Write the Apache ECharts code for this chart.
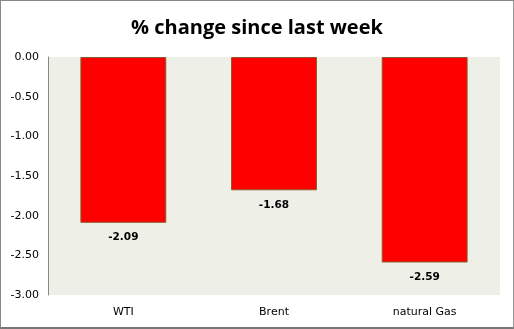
<!DOCTYPE html>
<html><head><meta charset="utf-8">
<script src="https://cdn.jsdelivr.net/npm/echarts@6/dist/echarts.min.js"></script>
<style>html,body{margin:0;padding:0;background:#fff}#c{position:absolute;left:0;top:0;width:512px;height:326px;border:1px solid #888;border-bottom:2px solid #777;border-right:1px solid #999}</style>
</head><body><div id="c"></div>
<script>
const categories = ['WTI', 'Brent', 'natural Gas'];
const values = [-2.09, -1.68, -2.59];
const yTicks = { min: -3, max: 0, interval: 0.5 };

const chart = echarts.init(document.getElementById('c'));
chart.setOption({
  animation: false,
  title: { text: '% change since last week', left: 'center', top: 12,
    textStyle: { fontFamily: 'Open Sans', fontWeight: 'bold', fontSize: 20, color: '#000' } },
  grid: { left: 47, right: 13, top: 56, bottom: 32, show: true, backgroundColor: '#EEF0E8', borderWidth: 0 },
  xAxis: { type: 'category', data: categories, position: 'bottom',
    axisLine: { show: false }, axisTick: { show: false },
    axisLabel: { fontFamily: 'DejaVu Sans', fontSize: 11, color: '#000', margin: 12 } },
  yAxis: { type: 'value', min: yTicks.min, max: yTicks.max, interval: yTicks.interval,
    axisLine: { show: true, lineStyle: { color: '#888' } }, axisTick: { show: false },
    splitLine: { show: false },
    axisLabel: { fontFamily: 'DejaVu Sans', fontSize: 11, color: '#000', margin: 9,
      formatter: v => v.toFixed(2) } },
  series: [{ type: 'bar', data: values, barWidth: '57%',
    itemStyle: { color: '#FF0000', borderColor: '#8B5A2B', borderWidth: 1 },
    label: { show: true, position: 'bottom', distance: 9, fontFamily: 'DejaVu Sans', fontWeight: 'bold',
      fontSize: 10.5, color: '#000', formatter: p => p.value.toFixed(2) } }]
});
</script></body></html>
